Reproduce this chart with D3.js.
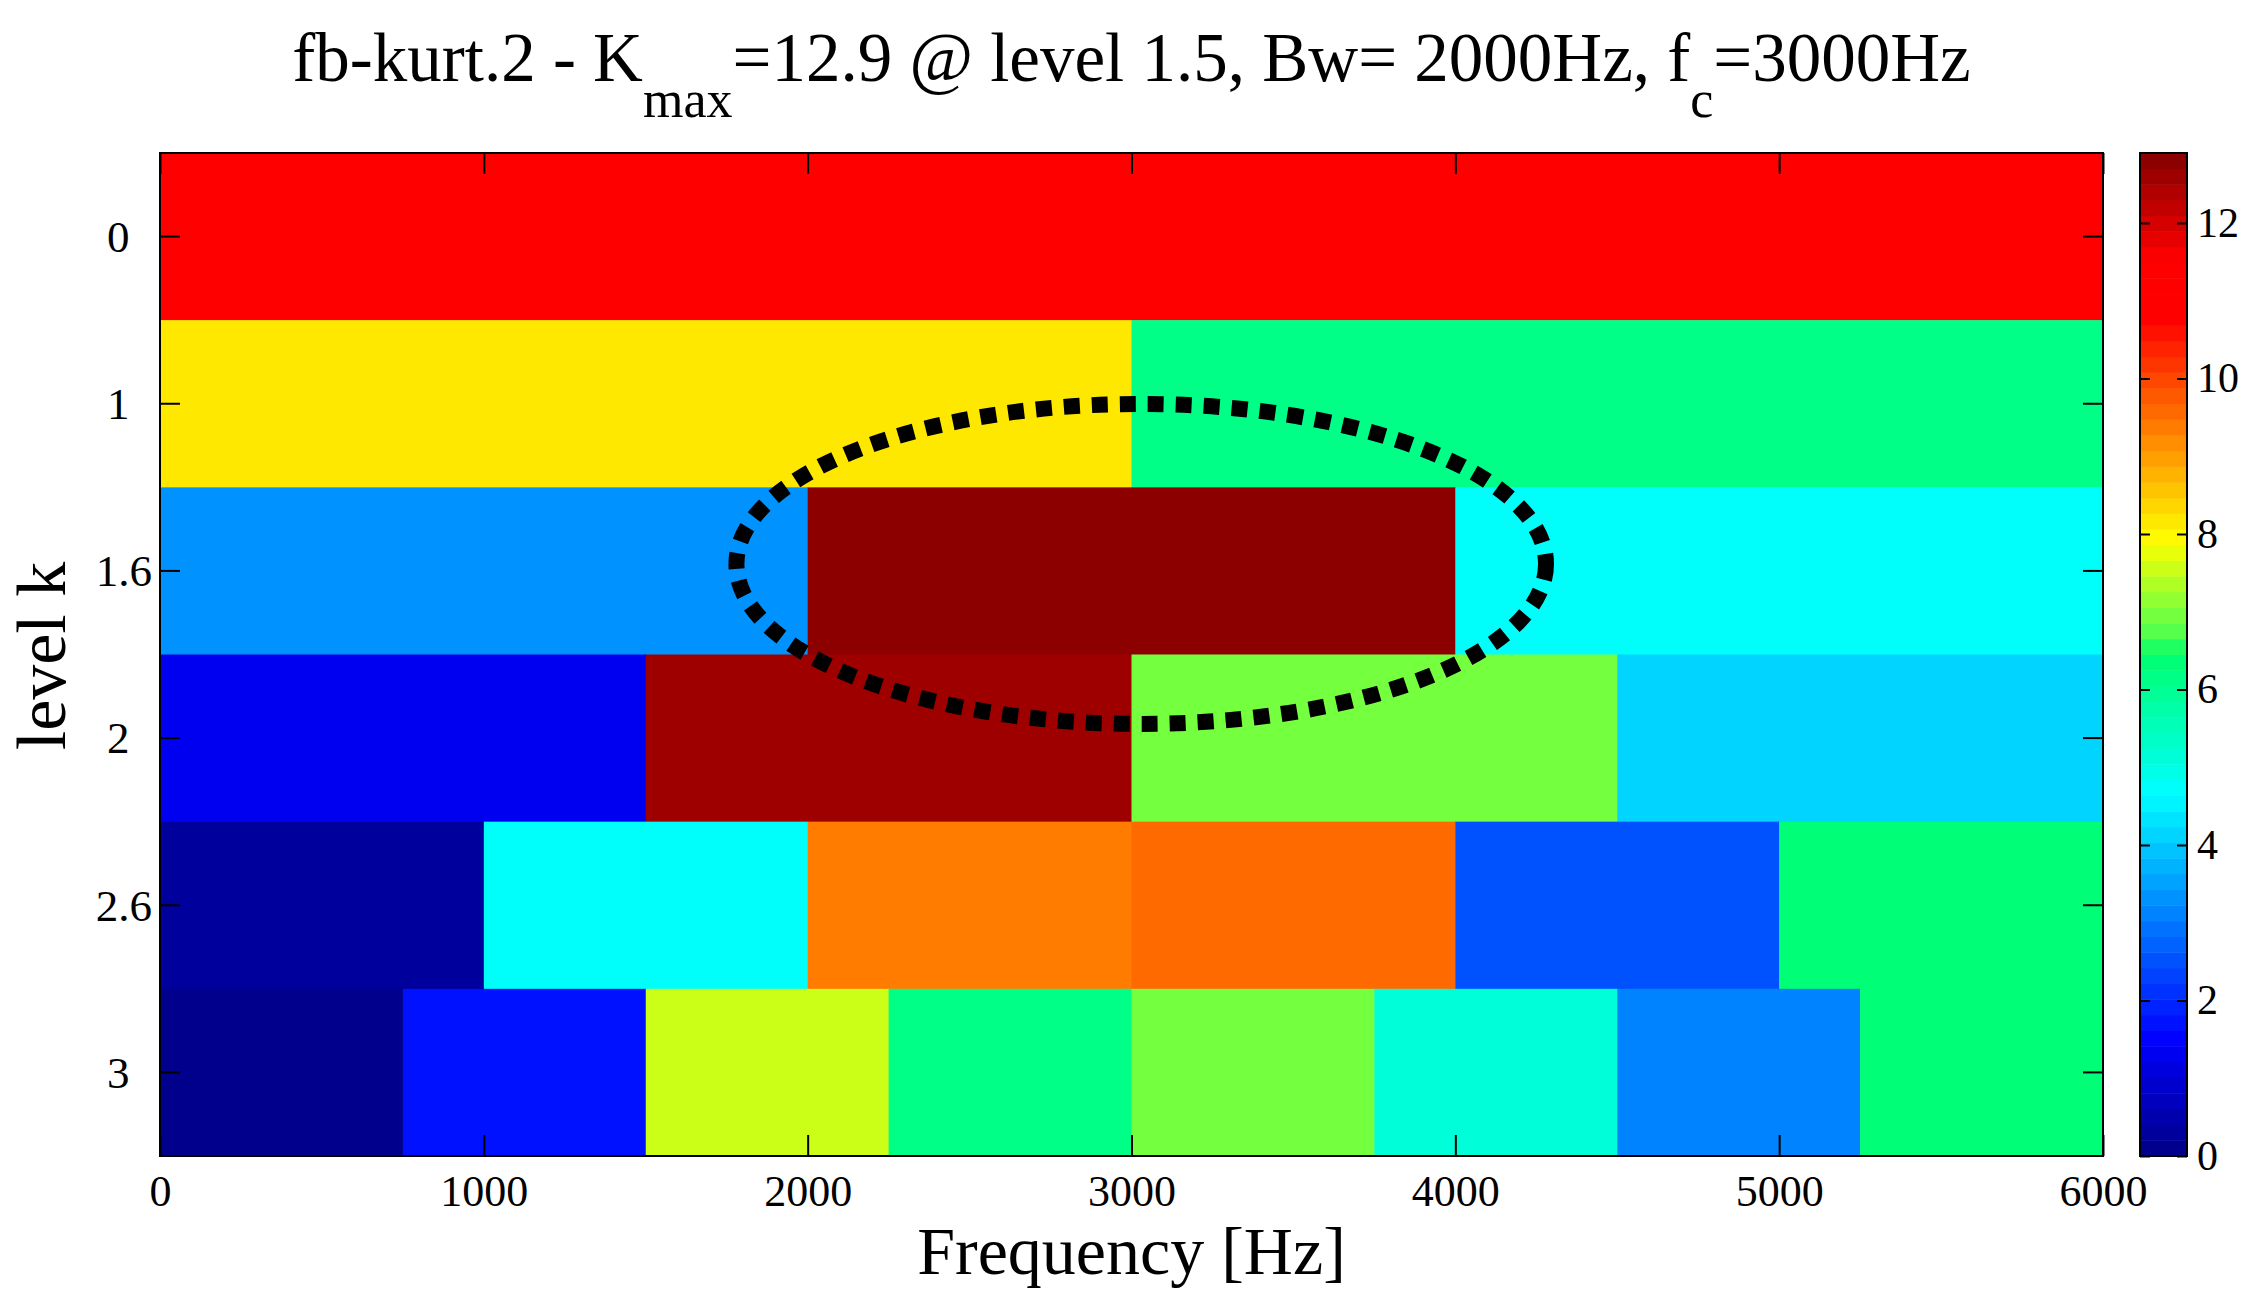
<!DOCTYPE html>
<html>
<head>
<meta charset="utf-8">
<script src="https://cdn.jsdelivr.net/npm/d3@7"></script>
<style>
  body { margin: 0; background: #fff; }
  svg text { font-family: "Liberation Serif", "Times New Roman", serif; fill: #000; }
</style>
</head>
<body>
<div id="chart-area"></div>
<script>
// levels of the filter bank (rows) and their tick labels
var levels = ["0", "1", "1.6", "2", "2.6", "3"];

// spectral kurtosis per band, one array per level (bands split 0..fs/2 evenly)
var kurt_L0   = [11.3];
var kurt_L1   = [8.15, 6.2];
var kurt_L16  = [3.25, 12.9, 4.8];
var kurt_L2   = [1.24, 12.5, 7.03, 4.2];
var kurt_L26  = [0.4, 4.65, 9.3, 9.5, 2.42, 6.3];
var kurt_L3   = [0.05, 1.67, 7.5, 6.2, 7.03, 5.08, 3.03, 6.3];
var kurtRows  = [kurt_L0, kurt_L1, kurt_L16, kurt_L2, kurt_L26, kurt_L3];

var freqTicks = [0, 1000, 2000, 3000, 4000, 5000, 6000];
var cbarTicks = [0, 2, 4, 6, 8, 10, 12];
var fMax = 6000, kMax = 12.9;

// dotted ellipse around the max (centre freq, level row, radii)
var ellFreq = 3030, ellRow = "1.6", ellRxHz = 1250, ellRyRows = 0.957, ellDy = -7;

var margin = { left: 160, right: 141, top: 153, bottom: 148 },
    width = 2244, height = 1304,
    plotW = 2103 - margin.left,
    plotH = 1156 - margin.top;

var svg = d3.select("#chart-area")
    .append("svg")
    .attr("width", width)
    .attr("height", height);
var g = svg.append("g")
    .attr("transform", "translate(" + margin.left + "," + margin.top + ")");

// Scales
var x = d3.scaleLinear().domain([0, fMax]).range([0, plotW]);
var y = d3.scaleBand().domain(levels).range([0, plotH]);

// jet-like map quantised to 64 steps, like the colorbar
var jet = d3.scaleLinear()
    .domain([0, 0.11, 0.36, 0.50, 0.52, 0.615, 0.84, 0.90, 1])
    .range(["#00008c", "#0000ff", "#00ffff", "#00ff6e", "#50ff50", "#ffff00", "#ff0000", "#ff0000", "#8c0000"])
    .clamp(true);
function colorOf(v) {
    var i = Math.min(63, Math.floor(v / kMax * 64));
    return jet(i / 63);
}

// Cells
kurtRows.forEach(function(row, li) {
    var bw = fMax / row.length;
    g.selectAll(".cell-" + li)
        .data(row)
        .enter()
        .append("rect")
        .attr("x", function(d, i) { return x(i * bw); })
        .attr("y", y(levels[li]))
        .attr("width", function(d, i) { return x((i + 1) * bw) - x(i * bw) + 0.5; })
        .attr("height", y.bandwidth() + 0.5)
        .attr("fill", function(d) { return colorOf(d); });
});

// Ellipse
var ecx = x(ellFreq), ecy = y(ellRow) + y.bandwidth() / 2 + ellDy;
g.append("ellipse")
    .attr("cx", ecx)
    .attr("cy", ecy)
    .attr("rx", x(ellRxHz) - x(0))
    .attr("ry", ellRyRows * y.bandwidth())
    .attr("fill", "none")
    .attr("stroke", "#000")
    .attr("stroke-width", 16)
    .attr("stroke-dasharray", "16 12");

// Axes (ticks inside, mirrored like a boxed matlab axis)
var tickLen = 21;
var xAxisB = g.append("g")
    .attr("transform", "translate(0," + plotH + ")")
    .call(d3.axisBottom(x).tickValues(freqTicks).tickSize(-tickLen).tickPadding(50).tickFormat(d3.format("d")));
var xAxisT = g.append("g")
    .call(d3.axisTop(x).tickValues(freqTicks).tickSize(-tickLen).tickFormat(""));
var yAxisL = g.append("g")
    .call(d3.axisLeft(y).tickSize(-20).tickPadding(0)
        .tickFormat(function(d) { return d + "\u00a0\u00a0\u00a0".slice(0, 3 - d.length); }));
var yAxisR = g.append("g")
    .attr("transform", "translate(" + plotW + ",0)")
    .call(d3.axisRight(y).tickSize(-20).tickFormat(""));

[xAxisB, xAxisT, yAxisL, yAxisR].forEach(function(a) {
    a.select(".domain").remove();
    a.selectAll(".tick line").attr("stroke", "#000").attr("stroke-width", 2);
});
xAxisB.selectAll(".tick text").attr("font-size", "44px").attr("dy", "0");
yAxisL.selectAll(".tick text")
    .attr("font-size", "45px")
    .attr("x", -8)
    .attr("dy", "0.34em")
    .style("white-space", "pre");

g.append("rect")
    .attr("width", plotW)
    .attr("height", plotH)
    .attr("fill", "none")
    .attr("stroke", "#000")
    .attr("stroke-width", 2);

// Colorbar
var cbX = 2140, cbW = 47;
var cy = d3.scaleLinear().domain([0, kMax]).range([1156, 153]);
var steps = d3.range(64);
svg.append("g").selectAll("rect")
    .data(steps)
    .enter()
    .append("rect")
    .attr("x", cbX)
    .attr("y", function(i) { return cy((i + 1) / 64 * kMax); })
    .attr("width", cbW)
    .attr("height", function(i) { return cy(i / 64 * kMax) - cy((i + 1) / 64 * kMax) + 0.5; })
    .attr("fill", function(i) { return jet(i / 63); });
var cbAxis = svg.append("g")
    .attr("transform", "translate(" + (cbX + cbW) + ",0)")
    .call(d3.axisRight(cy).tickValues(cbarTicks).tickSize(-10).tickPadding(10));
cbAxis.select(".domain").remove();
cbAxis.selectAll(".tick line").attr("stroke", "#000").attr("stroke-width", 2);
cbAxis.selectAll(".tick text").attr("font-size", "42px");
var cbLeft = svg.append("g")
    .attr("transform", "translate(" + cbX + ",0)")
    .call(d3.axisLeft(cy).tickValues(cbarTicks).tickSize(-10).tickFormat(""));
cbLeft.select(".domain").remove();
cbLeft.selectAll(".tick line").attr("stroke", "#000").attr("stroke-width", 2);
svg.append("rect")
    .attr("x", cbX).attr("y", 153)
    .attr("width", cbW).attr("height", 1003)
    .attr("fill", "none").attr("stroke", "#000").attr("stroke-width", 2);

// Labels
var title = svg.append("text")
    .attr("x", margin.left + plotW / 2)
    .attr("y", 81)
    .attr("text-anchor", "middle")
    .attr("font-size", "69px");
title.append("tspan").text("fb-kurt.2 - K");
title.append("tspan").attr("font-size", "52px").attr("dy", 36).text("max");
title.append("tspan").attr("dy", -36).text("=12.9 @ level 1.5, Bw= 2000Hz, f");
title.append("tspan").attr("font-size", "52px").attr("dy", 36).text("c");
title.append("tspan").attr("dy", -36).text("=3000Hz");

svg.append("text")
    .attr("x", margin.left + plotW / 2)
    .attr("y", 1274)
    .attr("text-anchor", "middle")
    .attr("font-size", "68px")
    .text("Frequency [Hz]");

svg.append("text")
    .attr("transform", "translate(65,656) rotate(-90)")
    .attr("text-anchor", "middle")
    .attr("font-size", "70px")
    .text("level k");
</script>
</body>
</html>
